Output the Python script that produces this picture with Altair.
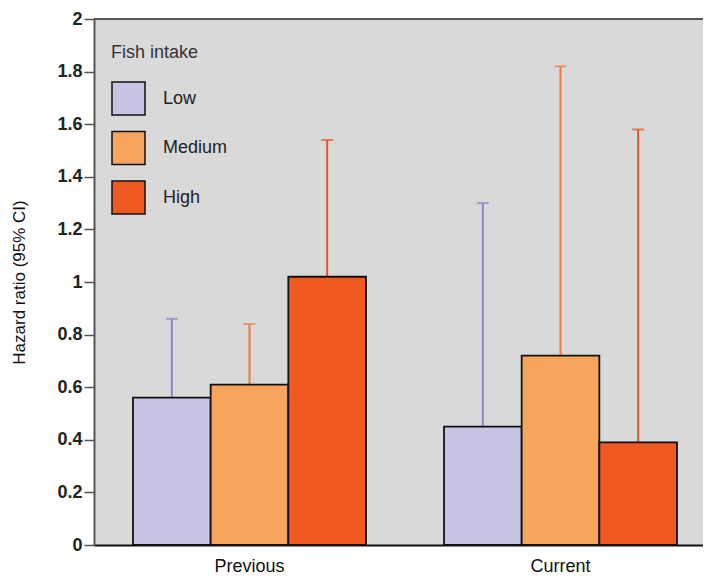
import altair as alt
import pandas as pd

periods = ["Previous", "Previous", "Previous", "Current", "Current", "Current"]
intake = ["Low", "Medium", "High", "Low", "Medium", "High"]
hr = [0.56, 0.61, 1.02, 0.45, 0.72, 0.39]
ci_upper = [0.86, 0.84, 1.54, 1.30, 1.82, 1.58]

levels = ["Low", "Medium", "High"]
fill_colors = ["#c9c3e3", "#f7a55c", "#f05a22"]
err_colors = {"Low": "#8a85cc", "Medium": "#f07a3a", "High": "#e0552a"}

df = pd.DataFrame({
    "period": periods,
    "intake": intake,
    "hr": hr,
    "ci": ci_upper,
})
df["ecolor"] = df["intake"].map(err_colors)

tick_vals = [round(i * 0.05, 2) for i in range(41)]
major = "round(datum.value*100) % 20 == 0"

x_enc = alt.X("period:N", sort=["Previous", "Current"],
              scale=alt.Scale(paddingInner=0.2508, paddingOuter=0.1045, align=0.6),
              axis=alt.Axis(title=None, labelFontSize=18, labelColor="#111",
                            labelFont="Liberation Sans", labelPadding=12,
                            ticks=False, domainColor="#111", domainWidth=2,
                            labelAngle=0))
xo_enc = alt.XOffset("intake:N", sort=levels,
                     scale=alt.Scale(paddingInner=0, paddingOuter=0))
y_scale = alt.Scale(domain=[0, 2], nice=False)

bars = alt.Chart(df).mark_bar(stroke="#111", strokeWidth=1.8).encode(
    x=x_enc,
    xOffset=xo_enc,
    y=alt.Y("hr:Q", scale=y_scale,
            axis=alt.Axis(title="Hazard ratio (95% CI)", titleFontSize=17,
                          titleFont="Liberation Sans", titleFontWeight="normal",
                          titleColor="#111", titlePadding=28,
                          values=tick_vals,
                          labelExpr=f"{major} ? format(datum.value, '~g') : ''",
                          labelFontSize=18, labelFont="Liberation Sans",
                          labelFontWeight="bold", labelColor="#222",
                          labelPadding=2,
                          tickSize={"condition": {"test": major, "value": 10}, "value": 5},
                          tickColor={"condition": {"test": major, "value": "#555"}, "value": "#999"},
                          tickWidth=1.5,
                          domainColor="#555", domainWidth=2, grid=False)),
    fill=alt.Fill("intake:N", sort=levels,
                  scale=alt.Scale(domain=levels, range=fill_colors),
                  legend=alt.Legend(title="Fish intake", orient="none",
                                    legendX=17, legendY=25,
                                    titleFontSize=18, titleFont="Liberation Sans",
                                    titleFontWeight="normal", titleColor="#333",
                                    titlePadding=19,
                                    labelFontSize=18, labelFont="Liberation Sans",
                                    labelColor="#222", labelOffset=17,
                                    symbolType="square", symbolSize=1089,
                                    symbolStrokeColor="#111", symbolStrokeWidth=1.5,
                                    rowPadding=10.5, padding=0)),
)

err = alt.Chart(df).mark_rule(strokeWidth=2).encode(
    x=x_enc, xOffset=xo_enc,
    y=alt.Y("hr:Q", scale=y_scale), y2="ci:Q",
    color=alt.Color("ecolor:N", scale=None),
)
caps = alt.Chart(df).mark_tick(size=12, thickness=2).encode(
    x=x_enc, xOffset=xo_enc,
    y=alt.Y("ci:Q", scale=y_scale),
    color=alt.Color("ecolor:N", scale=None),
)
top = alt.Chart(df).mark_rule(color="#555", strokeWidth=2).encode(y=alt.datum(2.0))

chart = alt.layer(err, caps, bars, top).properties(
    width=609, height=526,
    background="white",
    autosize=alt.AutoSizeParams(type="none"),
    padding={"left": 86, "top": 11, "right": 0, "bottom": 34},
).configure_view(fill="#d9d9d9", stroke=None)

chart.save("out.html", embed_options={"renderer": "svg", "actions": False})
